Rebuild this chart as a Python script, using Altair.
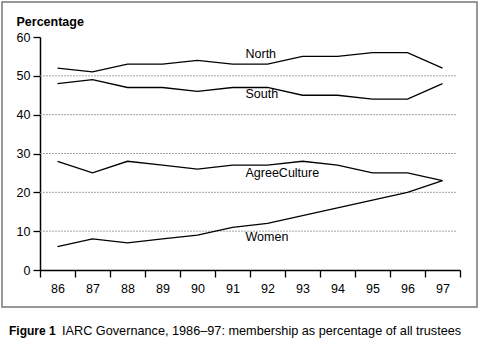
import altair as alt
import pandas as pd

years = ["86", "87", "88", "89", "90", "91", "92", "93", "94", "95", "96", "97"]
north = [52, 51, 53, 53, 54, 53, 53, 55, 55, 56, 56, 52]
south = [48, 49, 47, 47, 46, 47, 47, 45, 45, 44, 44, 48]
agree = [28, 25, 28, 27, 26, 27, 27, 28, 27, 25, 25, 23]
women = [6, 8, 7, 8, 9, 11, 12, 14, 16, 18, 20, 23]

label_names = ["North", "South", "AgreeCulture", "Women"]
label_year = ["92", "92", "92", "92"]
label_vals = [55.6, 45.2, 25.1, 8.4]

grid_vals = [10, 20, 30, 40, 50]
y_ticks = [0, 10, 20, 30, 40, 50, 60]

FONT = "Liberation Sans"

rows = []
for name, vals in [("North", north), ("South", south), ("AgreeCulture", agree), ("Women", women)]:
    for y, v in zip(years, vals):
        rows.append({"year": y, "value": v, "series": name})
df = pd.DataFrame(rows)

labels_df = pd.DataFrame({"year": label_year, "value": label_vals, "name": label_names})
grid_df = pd.DataFrame({"value": grid_vals})
one = pd.DataFrame({"a": [0]})

xscale = alt.Scale(domain=years, paddingInner=0, paddingOuter=0)
xaxis = alt.Axis(title=None, labelAngle=0, tickBand="extent", tickSize=7,
                 labelPadding=5, labelFontSize=12.5, labelColor="black",
                 domainColor="black", domainWidth=1.5, tickColor="black",
                 tickWidth=1.3, labelFont=FONT)
yscale = alt.Scale(domain=[0, 60], nice=False)
yaxis = alt.Axis(title="Percentage", titleAngle=0, titleAlign="left",
                 titleBaseline="middle", titleX=-24, titleY=-16,
                 titleFontSize=12.5, titleFontWeight="bold", titleFont=FONT,
                 titleColor="black", labelOverlap=False,
                 values=y_ticks, grid=False, tickSize=7, labelPadding=3,
                 labelFontSize=12.5, labelColor="black", labelFont=FONT,
                 domainColor="black", domainWidth=1.5, tickColor="black",
                 tickWidth=1.3)

grid = alt.Chart(grid_df).mark_rule(color="#999999", strokeWidth=0.9, strokeDash=[2, 1]).encode(
    y=alt.Y("value:Q", scale=yscale, axis=yaxis), x=alt.value(0), x2=alt.value(417))

lines = alt.Chart(df).mark_line(color="black", strokeWidth=1.3).encode(
    x=alt.X("year:O", sort=years, scale=xscale, axis=xaxis),
    y=alt.Y("value:Q", scale=yscale, axis=yaxis), detail="series:N")

labels = alt.Chart(labels_df).mark_text(align="left", baseline="middle", dx=-22,
                                         fontSize=12.5, font=FONT, color="black").encode(
    x=alt.X("year:O", sort=years, scale=xscale, axis=xaxis),
    y=alt.Y("value:Q", scale=yscale, axis=yaxis), text="name:N")

frame = alt.Chart(one).mark_rect(filled=False, stroke="#777777", strokeWidth=1.5).encode(
    x=alt.value(-38), x2=alt.value(437), y=alt.value(-35), y2=alt.value(270))

cap1 = alt.Chart(one).mark_text(align="left", baseline="middle", fontSize=12, font=FONT,
                                fontWeight="bold", color="black").encode(
    x=alt.value(-31), y=alt.value(294), text=alt.value("Figure 1"))
cap2 = alt.Chart(one).mark_text(align="left", baseline="middle", fontSize=12.7, font=FONT,
                                color="black").encode(
    x=alt.value(22), y=alt.value(294),
    text=alt.value("IARC Governance, 1986\u201397: membership as percentage of all trustees"))

chart = alt.layer(grid, lines, labels, frame, cap1, cap2).properties(
    width=420, height=233,
    autosize=alt.AutoSizeParams(type="none"),
    padding={"left": 40, "top": 37, "right": 20, "bottom": 83},
    background="white",
).configure_view(stroke=None)

chart.save("out.html", embed_options={"renderer": "svg", "actions": False})
